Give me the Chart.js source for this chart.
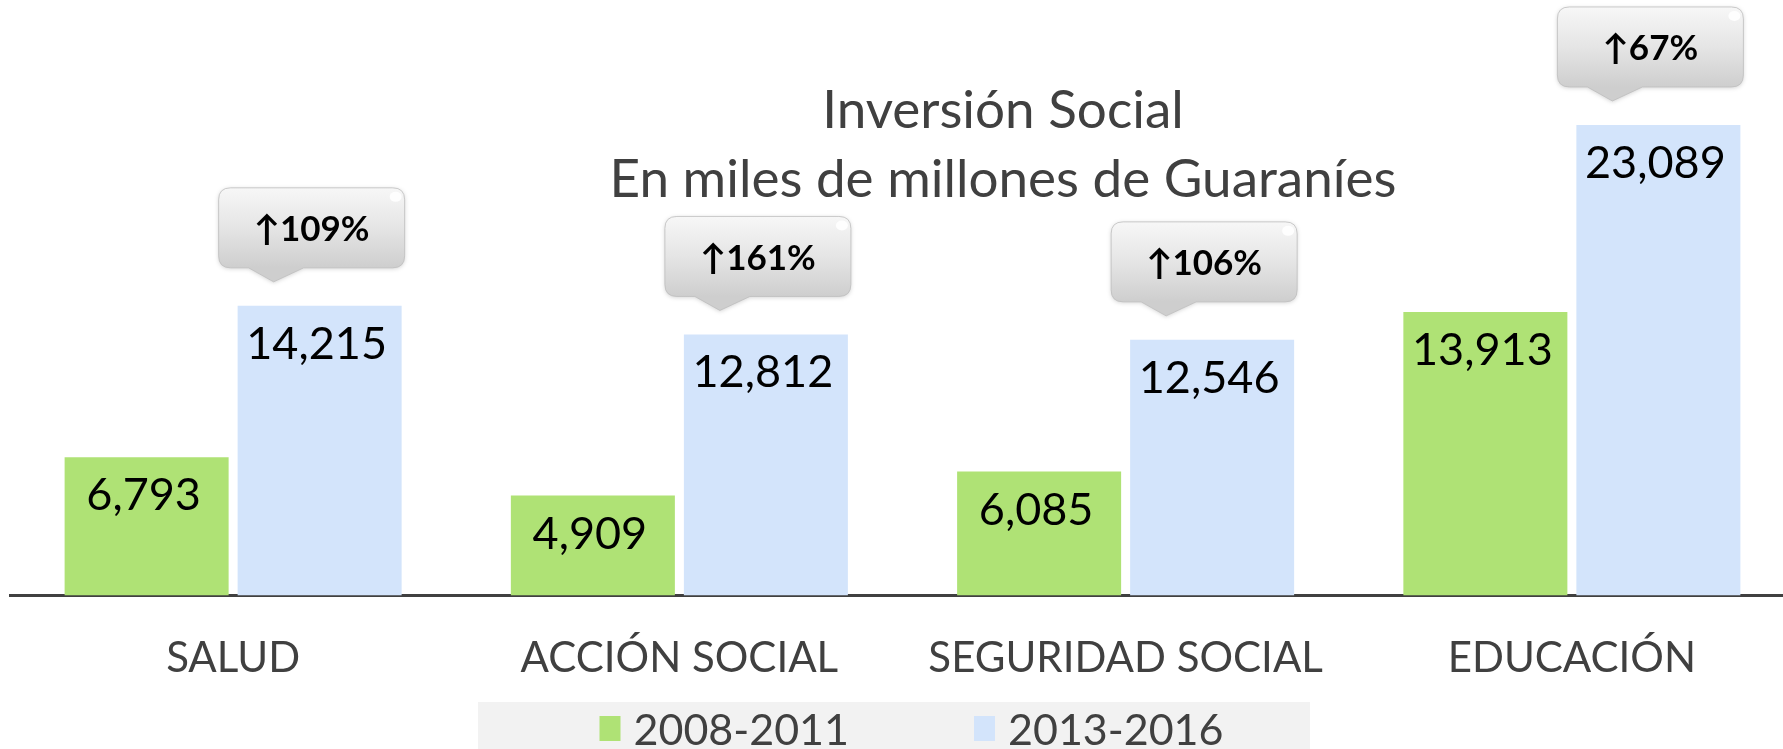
<!DOCTYPE html>
<html lang="es">
<head>
<meta charset="utf-8">
<title>Inversión Social</title>
<script src="https://cdn.jsdelivr.net/npm/chart.js@4.4.1/dist/chart.umd.min.js"></script>
<style>
    html, body { margin: 0; padding: 0; background: #fff; overflow: hidden; }
    #wrap { position: relative; width: 1796px; height: 749px; }
</style>
</head>
<body>
<div id="wrap"><canvas id="social-chart"></canvas></div>
<script>
(function () {
    'use strict';

    // Chart data
    const categories = ['SALUD', 'ACCIÓN SOCIAL', 'SEGURIDAD SOCIAL', 'EDUCACIÓN'];
    const seriesNames = ['2008-2011', '2013-2016'];
    const values2008 = [6793, 4909, 6085, 13913];
    const values2013 = [14215, 12812, 12546, 23089];
    const growthLabels = ['109%', '161%', '106%', '67%'];
    const titleLines = ['Inversión Social', 'En miles de millones de Guaraníes'];

    const FONT = 'Lato, "DejaVu Sans", sans-serif';
    const TEXT_GREY = '#404040';
    const GREEN = '#afe275';
    const BLUE = '#d3e4fb';

    // Helper: thousands separator like the source
    function formatValue(v) {
        return v.toLocaleString('en-US');
    }

    // Helper: rounded box with a small tail on the bottom edge
    function calloutPath(ctx, l, t, w, h, r, tailL, tailR, tipX, tipY) {
        ctx.beginPath();
        ctx.moveTo(l + r, t);
        ctx.lineTo(l + w - r, t);
        ctx.quadraticCurveTo(l + w, t, l + w, t + r);
        ctx.lineTo(l + w, t + h - r);
        ctx.quadraticCurveTo(l + w, t + h, l + w - r, t + h);
        ctx.lineTo(tailR, t + h);
        ctx.lineTo(tipX, tipY);
        ctx.lineTo(tailL, t + h);
        ctx.lineTo(l + r, t + h);
        ctx.quadraticCurveTo(l, t + h, l, t + h - r);
        ctx.lineTo(l, t + r);
        ctx.quadraticCurveTo(l, t, l + r, t);
        ctx.closePath();
    }

    // Title (two centred lines above the plot)
    const titlePlugin = {
        id: 'titleLines',
        afterDraw(chart) {
            const ctx = chart.ctx;
            ctx.save();
            ctx.fillStyle = TEXT_GREY;
            ctx.font = '53px ' + FONT;
            ctx.textAlign = 'center';
            ctx.textBaseline = 'alphabetic';
            ctx.fillText(titleLines[0], 1003, 128);
            ctx.fillText(titleLines[1], 1003, 197);
            ctx.restore();
        }
    };

    // Value labels inside the top of each bar
    const valueLabels = {
        id: 'valueLabels',
        afterDatasetsDraw(chart) {
            const ctx = chart.ctx;
            ctx.save();
            ctx.fillStyle = '#000';
            ctx.font = '45px ' + FONT;
            ctx.textAlign = 'center';
            ctx.textBaseline = 'alphabetic';
            chart.data.datasets.forEach((ds, i) => {
                chart.getDatasetMeta(i).data.forEach((bar, j) => {
                    ctx.fillText(formatValue(ds.data[j]), bar.x - 3, bar.y + 53);
                });
            });
            ctx.restore();
        }
    };

    // Grey speech bubbles with the growth over the second series
    const growthCallouts = {
        id: 'growthCallouts',
        afterDatasetsDraw(chart) {
            const ctx = chart.ctx;
            const bars = chart.getDatasetMeta(1).data;
            const w = 186, h = 80, r = 12;
            bars.forEach((bar, j) => {
                const l = bar.x - 8 - w / 2;
                const t = bar.y - 38 - h;
                const tipX = l + 55, tipY = t + h + 14;

                ctx.save();
                const grad = ctx.createLinearGradient(0, t, 0, t + h);
                grad.addColorStop(0, '#f7f7f7');
                grad.addColorStop(0.5, '#e5e5e5');
                grad.addColorStop(1, '#cecece');
                ctx.shadowColor = 'rgba(0, 0, 0, 0.18)';
                ctx.shadowBlur = 4;
                ctx.shadowOffsetY = 1;
                calloutPath(ctx, l, t, w, h, r, l + 30, l + 85, tipX, tipY);
                ctx.fillStyle = grad;
                ctx.fill();
                ctx.shadowColor = 'transparent';
                ctx.strokeStyle = 'rgba(190, 190, 190, 0.8)';
                ctx.lineWidth = 1;
                ctx.stroke();

                // glossy corner
                ctx.fillStyle = 'rgba(255, 255, 255, 0.9)';
                ctx.beginPath();
                ctx.ellipse(l + w - 9, t + 9, 6, 5, 0, 0, Math.PI * 2);
                ctx.fill();

                ctx.fillStyle = '#000';
                ctx.font = 'bold 35px ' + FONT;
                ctx.textAlign = 'center';
                ctx.textBaseline = 'middle';
                ctx.fillText('\u2191' + growthLabels[j], l + w / 2, t + h / 2 + 2);
                ctx.restore();
            });
        }
    };

    // Legend strip at the bottom
    const bottomLegend = {
        id: 'bottomLegend',
        afterDraw(chart) {
            const ctx = chart.ctx;
            const area = chart.chartArea;
            ctx.save();
            ctx.fillStyle = '#f2f2f2';
            ctx.fillRect(478, 702, 832, 47);

            ctx.font = '43px ' + FONT;
            ctx.textBaseline = 'alphabetic';
            ctx.textAlign = 'left';
            const box = 21, gap = 13, spacing = 125;
            const items = chart.data.datasets.map(ds => ({
                color: ds.backgroundColor,
                text: ds.label,
                width: ctx.measureText(ds.label).width
            }));
            const total = items.reduce((s, it) => s + box + gap + it.width, 0) + spacing * (items.length - 1);
            let x = (area.left + area.right) / 2 + 9 - total / 2;
            items.forEach(it => {
                ctx.fillStyle = it.color;
                ctx.fillRect(x, 716, box, 25);
                ctx.fillStyle = TEXT_GREY;
                ctx.fillText(it.text, x + box + gap, 745);
                x += box + gap + it.width + spacing;
            });
            ctx.restore();
        }
    };

    const canvas = document.getElementById('social-chart');

    new Chart(canvas, {
        type: 'bar',
        data: {
            labels: categories,
            datasets: [{
                label: seriesNames[0],
                data: values2008,
                backgroundColor: GREEN,
                borderWidth: 0
            }, {
                label: seriesNames[1],
                data: values2013,
                backgroundColor: BLUE,
                borderWidth: 0
            }]
        },
        options: {
            responsive: true,
            maintainAspectRatio: false,
            animation: false,
            categoryPercentage: 0.7754,
            barPercentage: 0.948,
            layout: {
                padding: { left: 10, right: 1, top: 86, bottom: 27 }
            },
            plugins: {
                legend: { display: false },
                title: { display: false },
                tooltip: { enabled: false }
            },
            scales: {
                x: {
                    z: 1,
                    grid: { display: false, drawTicks: false },
                    border: { display: true, color: '#404040', width: 3 },
                    ticks: {
                        color: TEXT_GREY,
                        font: { family: FONT, size: 42 },
                        padding: 38,
                        maxRotation: 0,
                        autoSkip: false
                    }
                },
                y: {
                    display: false,
                    min: 0,
                    max: 25000
                }
            }
        },
        plugins: [titlePlugin, valueLabels, growthCallouts, bottomLegend]
    });

})();
</script>
</body>
</html>
